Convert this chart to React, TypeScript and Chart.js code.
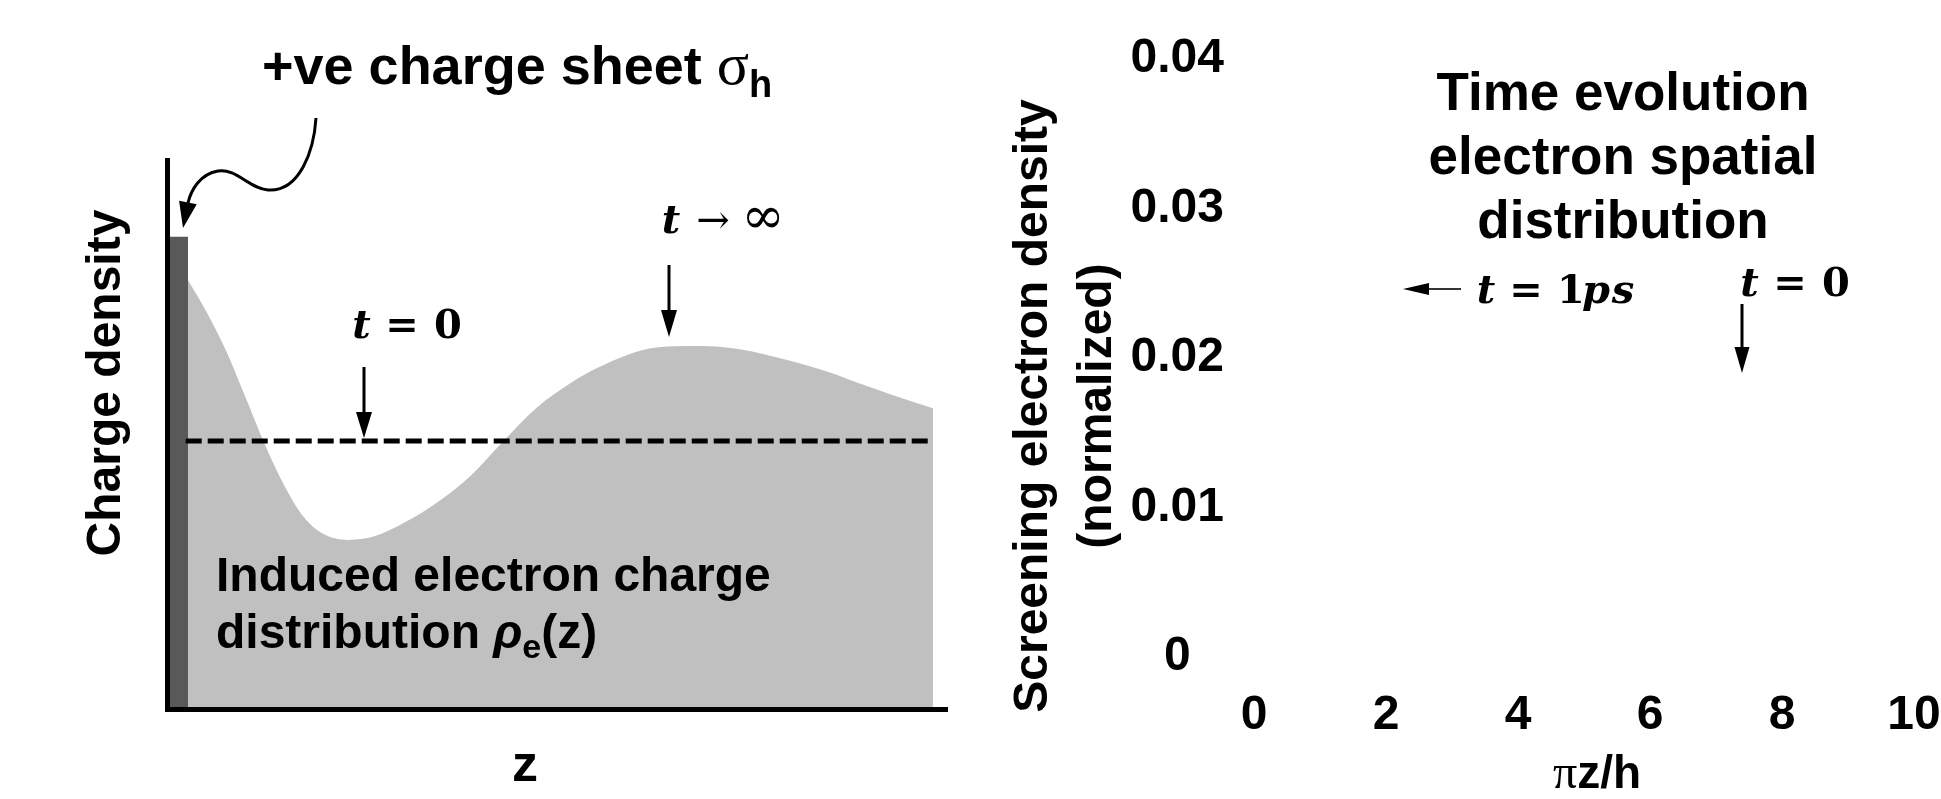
import React, { useEffect, useRef } from 'react';
import { Chart, registerables } from 'chart.js';

Chart.register(...registerables);

// ---------------- Left panel: schematic charge density ----------------
// z positions (arbitrary units, 0..100) and induced electron density at t -> infinity
const zPositions = [2.7, 5, 7.5, 10, 12.5, 15, 17.5, 20, 23.3, 26.5, 30.5, 35, 39, 43, 47.5, 52, 55, 59, 63, 67.5, 72, 76, 80.5, 85, 89, 93, 98.2];
const rhoLongTime = [78.1, 72.5, 65.5, 57, 48.3, 40.8, 35, 31.9, 30.8, 31.4, 34, 38, 42.6, 48.6, 55, 59.6, 62, 64.5, 65.9, 66.1, 65.8, 64.8, 63.2, 61.3, 59.2, 57.2, 54.8];
// positive charge sheet sigma_h (thin slab at the surface)
const sheetZ = [0, 2.7];
const sheetLevel = 86;
// uniform initial (t = 0) distribution
const initialZ = [2.4, 97.6];
const initialLevel = 48.8;

// ---------------- Right panel: time evolution axes ----------------
const xTickValues = [0, 2, 4, 6, 8, 10];
const yTickValues = [0, 0.01, 0.02, 0.03, 0.04];
const yTickLabels = ['0', '0.01', '0.02', '0.03', '0.04'];

const SANS = '"Liberation Sans", Arial, Helvetica, sans-serif';
const SERIF = '"Liberation Serif", "Times New Roman", serif';
const MATH = '"DejaVu Serif", "Liberation Serif", serif';

function arrow(ctx: CanvasRenderingContext2D, x1: number, y1: number, x2: number, y2: number, lw: number, headLen: number, headHalf: number) {
  const ang = Math.atan2(y2 - y1, x2 - x1);
  const bx = x2 - headLen * Math.cos(ang);
  const by = y2 - headLen * Math.sin(ang);
  ctx.save();
  ctx.strokeStyle = '#000';
  ctx.fillStyle = '#000';
  ctx.lineWidth = lw;
  ctx.beginPath();
  ctx.moveTo(x1, y1);
  ctx.lineTo(bx, by);
  ctx.stroke();
  ctx.beginPath();
  ctx.moveTo(x2, y2);
  ctx.lineTo(bx + headHalf * Math.sin(ang), by - headHalf * Math.cos(ang));
  ctx.lineTo(bx - headHalf * Math.sin(ang), by + headHalf * Math.cos(ang));
  ctx.closePath();
  ctx.fill();
  ctx.restore();
}

type Glyph = [string, string, number];
function glyphs(ctx: CanvasRenderingContext2D, x0: number, baseline: number, items: Glyph[]) {
  ctx.save();
  ctx.fillStyle = '#000';
  ctx.textAlign = 'center';
  ctx.textBaseline = 'alphabetic';
  for (const [text, font, dx] of items) {
    ctx.font = font;
    ctx.fillText(text, x0 + dx, baseline);
  }
  ctx.restore();
}

type Run = [string, string, number];
function runs(ctx: CanvasRenderingContext2D, x0: number, baseline: number, items: Run[]) {
  ctx.save();
  ctx.fillStyle = '#000';
  ctx.textAlign = 'left';
  ctx.textBaseline = 'alphabetic';
  let x = x0;
  for (const [text, font, dy] of items) {
    ctx.font = font;
    ctx.fillText(text, x, baseline + dy);
    x += ctx.measureText(text).width;
  }
  ctx.restore();
}

const T_IT = `italic bold 40px ${MATH}`;
const T_UP = `bold 40px ${MATH}`;

const leftAnnotations = {
  id: 'leftAnnotations',
  afterDraw(chart: Chart) {
    const ctx = chart.ctx;
    // "+ve charge sheet σh"
    runs(ctx, 262, 84, [
      ['+ve charge sheet ', `bold 54px ${SANS}`, 0],
      ['σ', `60px ${SERIF}`, 0],
      ['h', `bold 38px ${SANS}`, 13],
    ]);
    // curly arrow to the charge sheet
    ctx.save();
    ctx.strokeStyle = '#000';
    ctx.lineWidth = 3;
    ctx.beginPath();
    ctx.moveTo(316, 118);
    ctx.bezierCurveTo(314, 150, 300, 192, 268, 190);
    ctx.bezierCurveTo(250, 189, 236, 168, 218, 171);
    ctx.bezierCurveTo(200, 174, 191, 190, 188, 203);
    ctx.stroke();
    ctx.restore();
    arrow(ctx, 188, 202, 183, 228, 3, 26, 9);

    // t -> infinity label and arrow
    glyphs(ctx, 663, 233, [
      ['t', T_IT, 8],
      ['→', `40px ${MATH}`, 50],
      ['∞', `52px ${MATH}`, 100],
    ]);
    arrow(ctx, 669, 265, 669, 337, 3, 27, 8);

    // t = 0 label and arrow
    glyphs(ctx, 353, 338, [
      ['t', T_IT, 8.5],
      ['=', T_UP, 49],
      ['0', T_UP, 95],
    ]);
    arrow(ctx, 364, 367, 364, 438, 3, 26, 8);

    // induced distribution text
    runs(ctx, 216, 591, [['Induced electron charge', `bold 48px ${SANS}`, 0]]);
    runs(ctx, 216, 648, [
      ['distribution ', `bold 48px ${SANS}`, 0],
      ['ρ', `italic bold 48px ${SANS}`, 0],
      ['e', `bold 34px ${SANS}`, 10],
      ['(z)', `bold 48px ${SANS}`, 0],
    ]);

    // axis titles
    ctx.save();
    ctx.fillStyle = '#000';
    ctx.font = `bold 48px ${SANS}`;
    ctx.textAlign = 'center';
    ctx.textBaseline = 'alphabetic';
    ctx.translate(120, 383);
    ctx.rotate(-Math.PI / 2);
    ctx.fillText('Charge density', 0, 0);
    ctx.restore();

    ctx.save();
    ctx.fillStyle = '#000';
    ctx.font = `bold 52px ${SANS}`;
    ctx.textAlign = 'center';
    ctx.textBaseline = 'alphabetic';
    ctx.fillText('z', 525, 781);
    ctx.restore();
  },
};

const rightAnnotations = {
  id: 'rightAnnotations',
  afterDraw(chart: Chart) {
    const ctx = chart.ctx;
    // title block
    ctx.save();
    ctx.fillStyle = '#000';
    ctx.font = `bold 53px ${SANS}`;
    ctx.textAlign = 'center';
    ctx.textBaseline = 'alphabetic';
    ctx.fillText('Time evolution', 653, 110);
    ctx.fillText('electron spatial', 653, 174);
    ctx.fillText('distribution', 653, 238);
    ctx.restore();

    // <- t = 1ps
    arrow(ctx, 491, 289, 433, 289, 1.6, 26, 6);
    glyphs(ctx, 507, 303, [
      ['t', T_IT, 9],
      ['=', T_UP, 49],
      ['1', T_UP, 94],
      ['p', T_IT, 119],
      ['s', T_IT, 146],
    ]);

    // t = 0 with down arrow
    glyphs(ctx, 771, 296, [
      ['t', T_IT, 8.5],
      ['=', T_UP, 49],
      ['0', T_UP, 95],
    ]);
    arrow(ctx, 772, 304, 772, 373, 3, 26, 7.5);

    // y-axis title (two lines)
    ctx.save();
    ctx.fillStyle = '#000';
    ctx.font = `bold 48px ${SANS}`;
    ctx.textAlign = 'center';
    ctx.textBaseline = 'middle';
    ctx.save();
    ctx.translate(64, 406);
    ctx.rotate(-Math.PI / 2);
    ctx.fillText('Screening electron density', 0, 0);
    ctx.restore();
    ctx.save();
    ctx.translate(128, 406);
    ctx.rotate(-Math.PI / 2);
    ctx.fillText('(normalized)', 0, 0);
    ctx.restore();
    ctx.restore();

    // x-axis title πz/h
    ctx.save();
    ctx.fillStyle = '#000';
    ctx.textBaseline = 'alphabetic';
    ctx.font = `48px ${SERIF}`;
    const piW = ctx.measureText('π').width;
    ctx.font = `bold 46px ${SANS}`;
    const restW = ctx.measureText('z/h').width;
    const start = 627 - (piW + restW) / 2;
    ctx.textAlign = 'left';
    ctx.font = `48px ${SERIF}`;
    ctx.fillText('π', start, 788);
    ctx.font = `bold 46px ${SANS}`;
    ctx.fillText('z/h', start + piW, 788);
    ctx.restore();
  },
};

export default function App() {
  const leftRef = useRef<HTMLCanvasElement>(null);
  const rightRef = useRef<HTMLCanvasElement>(null);

  useEffect(() => {
    const left = new Chart(leftRef.current as HTMLCanvasElement, {
      type: 'line',
      data: {
        datasets: [
          {
            label: 'Initial uniform distribution (t = 0)',
            data: initialZ.map((z) => ({ x: z, y: initialLevel })),
            borderColor: '#000',
            borderWidth: 5,
            borderDash: [16, 6],
            pointRadius: 0,
            fill: false,
            order: 0,
          },
          {
            label: 'Positive charge sheet',
            data: sheetZ.map((z) => ({ x: z, y: sheetLevel })),
            borderColor: 'rgba(0,0,0,0)',
            borderWidth: 0,
            backgroundColor: '#595959',
            pointRadius: 0,
            fill: 'origin',
            order: 1,
          },
          {
            label: 'Induced electron charge distribution',
            data: zPositions.map((z, i) => ({ x: z, y: rhoLongTime[i] })),
            borderColor: 'rgba(0,0,0,0)',
            borderWidth: 0,
            backgroundColor: '#c0c0c0',
            pointRadius: 0,
            fill: 'origin',
            cubicInterpolationMode: 'monotone',
            order: 2,
          },
        ],
      },
      options: {
        responsive: false,
        animation: false,
        devicePixelRatio: 1,
        layout: { padding: { left: 0, top: 160, right: 23, bottom: 0 } },
        plugins: { legend: { display: false }, tooltip: { enabled: false } },
        scales: {
          x: {
            type: 'linear',
            min: 0,
            max: 100,
            grid: { display: false, drawTicks: false },
            ticks: { display: false },
            border: { display: true, color: '#000', width: 5, z: 1 },
            afterFit: (s: any) => { s.height = 90; },
          },
          y: {
            type: 'linear',
            min: 0,
            max: 100,
            grid: { display: false, drawTicks: false },
            ticks: { display: false },
            border: { display: true, color: '#000', width: 5, z: 1 },
            afterFit: (s: any) => { s.width = 167; },
          },
        },
      },
      plugins: [leftAnnotations],
    } as any);

    const tickFont = { family: SANS, size: 48, weight: 'bold' as const };
    const right = new Chart(rightRef.current as HTMLCanvasElement, {
      type: 'scatter',
      data: { datasets: [] },
      options: {
        responsive: false,
        animation: false,
        devicePixelRatio: 1,
        layout: { padding: { left: 0, top: 51, right: 27, bottom: 0 } },
        plugins: { legend: { display: false }, tooltip: { enabled: false } },
        scales: {
          x: {
            type: 'linear',
            min: 0,
            max: 10,
            grid: { display: false, drawTicks: false },
            border: { display: false },
            ticks: { font: tickFont, color: '#000', padding: 30, maxRotation: 0, autoSkip: false },
            afterBuildTicks: (s: any) => { s.ticks = xTickValues.map((v) => ({ value: v })); },
            afterFit: (s: any) => {
              s.height = 142;
              s.paddingLeft = 0;
              s.paddingRight = 0;
            },
          },
          y: {
            type: 'linear',
            min: 0,
            max: 0.04,
            grid: { display: false, drawTicks: false },
            border: { display: false },
            ticks: {
              font: tickFont,
              color: '#000',
              padding: 30,
              crossAlign: 'center',
              autoSkip: false,
              callback: (v: any) => {
                const i = yTickValues.indexOf(v);
                return i >= 0 ? yTickLabels[i] : String(v);
              },
            },
            afterBuildTicks: (s: any) => { s.ticks = yTickValues.map((v) => ({ value: v })); },
            afterFit: (s: any) => { s.width = 284; },
          },
        },
      },
      plugins: [rightAnnotations],
    } as any);

    return () => {
      left.destroy();
      right.destroy();
    };
  }, []);

  return (
    <div style={{ position: 'fixed', left: 0, top: 0, width: 1941, height: 799, background: '#fff', overflow: 'hidden' }}>
      <canvas ref={leftRef} width={970} height={799} style={{ position: 'absolute', left: 0, top: 0, width: 970, height: 799 }} />
      <canvas ref={rightRef} width={971} height={799} style={{ position: 'absolute', left: 970, top: 0, width: 971, height: 799 }} />
    </div>
  );
}
